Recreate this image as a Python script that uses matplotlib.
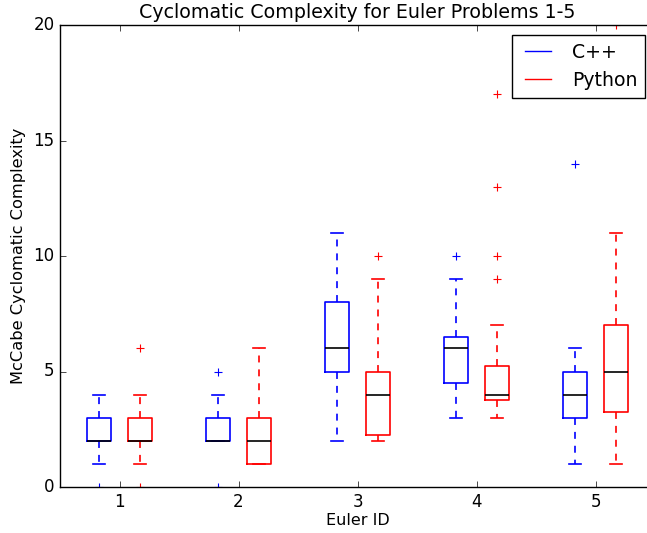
import matplotlib
matplotlib.use("Agg")
import matplotlib.pyplot as plt
from matplotlib.lines import Line2D

plt.style.use("classic")
plt.rcParams["font.family"] = ["DejaVu Sans"]

problems = [1, 2, 3, 4, 5]
series_names = ["C++", "Python"]

# C++ box statistics per Euler problem
cpp_whislo = [1, 2, 2, 3, 1]
cpp_q1 = [2, 2, 5, 4.5, 3]
cpp_med = [2, 2, 6, 6, 4]
cpp_q3 = [3, 3, 8, 6.5, 5]
cpp_whishi = [4, 4, 11, 9, 6]
cpp_fliers = [[0], [0, 5], [], [10], [14]]

# Python box statistics per Euler problem
py_whislo = [1, 1, 2, 3, 1]
py_q1 = [2, 1, 2.25, 3.75, 3.25]
py_med = [2, 2, 4, 4, 5]
py_q3 = [3, 3, 5, 5.25, 7]
py_whishi = [4, 6, 9, 7, 11]
py_fliers = [[0, 6], [], [10], [9, 10, 13, 17], [20]]


def make_stats(lo, q1, med, q3, hi, fl):
    return [dict(whislo=a, q1=b, med=c, q3=d, whishi=e, fliers=f)
            for a, b, c, d, e, f in zip(lo, q1, med, q3, hi, fl)]


fig = plt.figure(figsize=(6.47, 5.33), dpi=100, facecolor="white")
ax = fig.add_axes([60 / 647, 46 / 533, 595 / 647, 462 / 533])
ax.set_facecolor("white")

offset = 0.17
width = 0.2
for stats, color, off in [
    (make_stats(cpp_whislo, cpp_q1, cpp_med, cpp_q3, cpp_whishi, cpp_fliers), "blue", -offset),
    (make_stats(py_whislo, py_q1, py_med, py_q3, py_whishi, py_fliers), "red", offset),
]:
    ax.bxp(stats, positions=[p + off for p in problems], widths=width,
           manage_ticks=False,
           boxprops=dict(color=color, linewidth=1.2),
           whiskerprops=dict(color=color, linestyle="--", linewidth=1.2, dashes=(5, 5)),
           capprops=dict(color=color, linewidth=1.2),
           medianprops=dict(color="black", linewidth=1.2),
           flierprops=dict(marker="+", markeredgecolor=color, markersize=6,
                           markeredgewidth=0.8, linestyle="none"))

ax.set_xlim(0.5, 5.5)
ax.set_ylim(0, 20)
ax.set_xticks(problems)
ax.set_xticklabels([str(p) for p in problems])
ax.set_yticks([0, 5, 10, 15, 20])
ax.tick_params(labelsize=12)
ax.set_xlabel("Euler ID", fontsize=11.5, labelpad=2)
ax.set_ylabel("McCabe Cyclomatic Complexity", fontsize=11.7)
ax.set_title("Cyclomatic Complexity for Euler Problems 1-5", fontsize=13.7, pad=5)

handles = [Line2D([], [], color="blue"), Line2D([], [], color="red")]
leg = ax.legend(handles, series_names, loc="upper right",
                bbox_to_anchor=(645 / 647, (533 - 35) / 533),
                bbox_transform=fig.transFigure, borderaxespad=0,
                fontsize=13.6, fancybox=False, frameon=True)
leg.get_frame().set_edgecolor("black")

fig.savefig("out.png", dpi=100, facecolor="white")
